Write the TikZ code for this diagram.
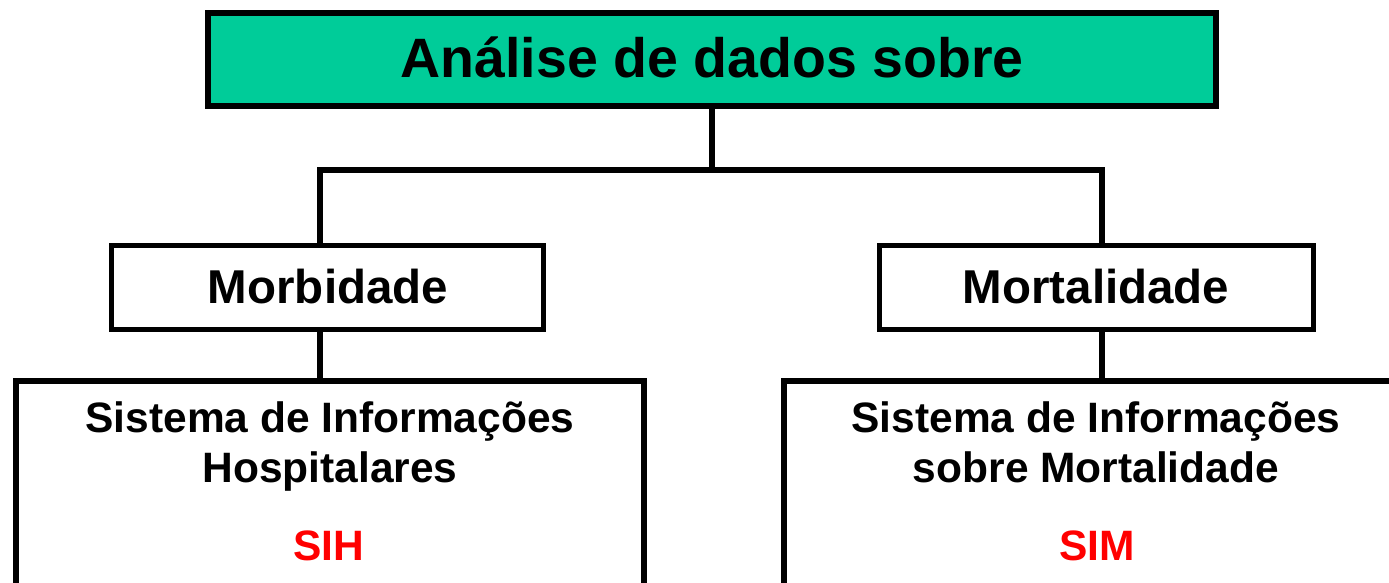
\documentclass[tikz,border=0pt]{standalone}
\usepackage{fontspec}
\setmainfont{Liberation Sans}
\definecolor{teal}{RGB}{0,204,153}
\definecolor{sysred}{RGB}{255,0,0}
\begin{document}
\begin{tikzpicture}[x=1pt,y=-1pt,
  box/.style={draw=black,fill=white,rectangle,inner sep=0pt,line width=5.5pt},
  topbox/.style={box,fill=teal,line width=6pt},
  lbl/.style={inner sep=0pt,anchor=base,font=\bfseries\fontsize{#1}{#1}\selectfont},
  conn/.style={draw=black,line width=6.5pt,line join=miter}]
\useasboundingbox (0,0) rectangle (1389,582);
% boxes
\node[topbox,minimum width=1008pt,minimum height=93pt] (top) at (712,59.5) {};
\node[box,minimum width=432pt,minimum height=84pt] (morb) at (327.5,287.5) {};
\node[box,minimum width=434pt,minimum height=84pt] (mort) at (1096.5,287.5) {};
\node[box,line width=6pt,minimum width=628pt,minimum height=300pt] (sih) at (330,531) {};
\node[box,line width=6pt,minimum width=624pt,minimum height=300pt] (sim) at (1096,531) {};
% connectors
\coordinate (jl) at (320,170);
\coordinate (jr) at (1102,170);
\draw[conn] (top.south) -- (top.south |- jl);
\draw[conn] (jl |- morb.north) -- (jl) -- (jr) -- (jr |- mort.north);
\draw[conn] (jl |- morb.south) -- (jl |- sih.north);
\draw[conn] (jr |- mort.south) -- (jr |- sim.north);
% texts
\node[lbl=55.5] (ttitle) at (712,77) {Análise de dados sobre};
\node[lbl=47.5] (tmorb) at (328,303) {Morbidade};
\node[lbl=47.5] (tmort) at (1096,303) {Mortalidade};
\node[lbl=42.5] (tsih1) at (330,432) {Sistema de Informações};
\node[lbl=42.5] (tsih2) at (330,482) {Hospitalares};
\node[lbl=42.5,text=sysred] (tsih3) at (329,560) {SIH};
\node[lbl=42.5] (tsim1) at (1096,432) {Sistema de Informações};
\node[lbl=42.5] (tsim2) at (1096,482) {sobre Mortalidade};
\node[lbl=42.5,text=sysred] (tsim3) at (1097,560) {SIM};
\end{tikzpicture}
\end{document}
